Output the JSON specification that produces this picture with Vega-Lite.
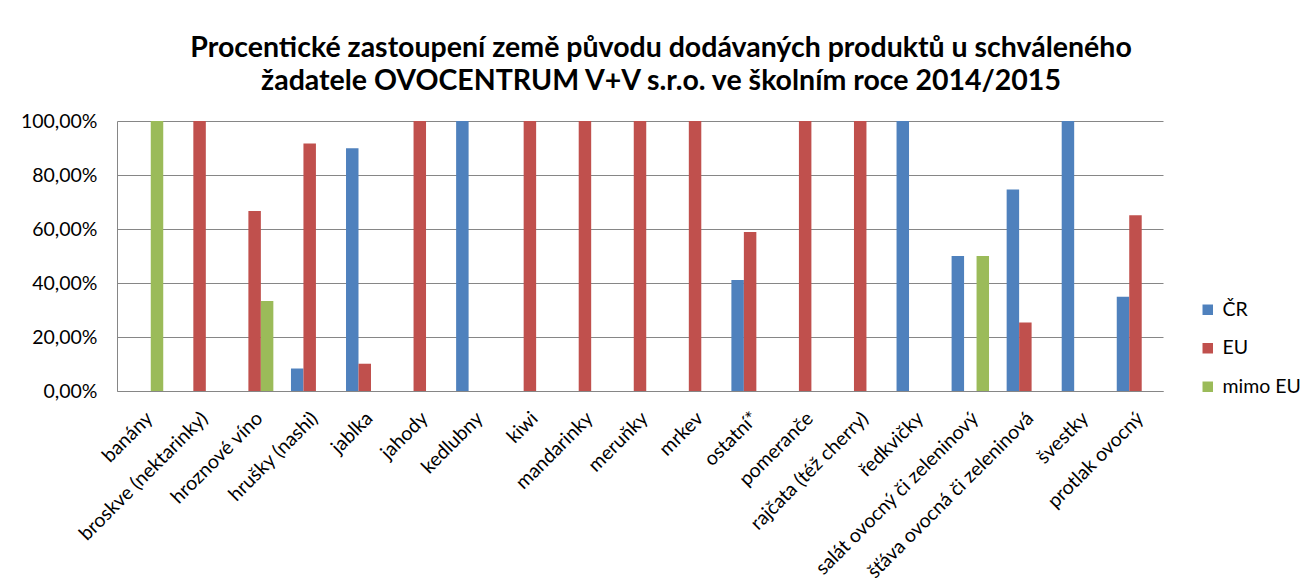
{
  "$schema": "https://vega.github.io/schema/vega-lite/v6.json",
  "width": 1046,
  "height": 270,
  "autosize": {"type": "none"},
  "padding": {"left": 117, "top": 121, "right": 151, "bottom": 195},
  "background": "#ffffff",
  "title": {
    "text": ["Procentické zastoupení země původu dodávaných produktů u schváleného", "žadatele OVOCENTRUM V+V s.r.o. ve školním roce 2014/2015"],
    "font": "Lato",
    "fontSize": 28.5,
    "fontWeight": "bold",
    "color": "#000000",
    "lineHeight": 33,
    "anchor": "middle",
    "dx": 21,
    "offset": 16
  },
  "data": {
    "values": [
      {"produkt": "banány", "puvod": "mimo EU", "podil": 100},
      {"produkt": "broskve (nektarinky)", "puvod": "EU", "podil": 100},
      {"produkt": "hroznové víno", "puvod": "EU", "podil": 66.67},
      {"produkt": "hroznové víno", "puvod": "mimo EU", "podil": 33.33},
      {"produkt": "hrušky (nashi)", "puvod": "ČR", "podil": 8.33},
      {"produkt": "hrušky (nashi)", "puvod": "EU", "podil": 91.67},
      {"produkt": "jablka", "puvod": "ČR", "podil": 89.9},
      {"produkt": "jablka", "puvod": "EU", "podil": 10.1},
      {"produkt": "jahody", "puvod": "EU", "podil": 100},
      {"produkt": "kedlubny", "puvod": "ČR", "podil": 100},
      {"produkt": "kiwi", "puvod": "EU", "podil": 100},
      {"produkt": "mandarinky", "puvod": "EU", "podil": 100},
      {"produkt": "meruňky", "puvod": "EU", "podil": 100},
      {"produkt": "mrkev", "puvod": "EU", "podil": 100},
      {"produkt": "ostatní*", "puvod": "ČR", "podil": 41.1},
      {"produkt": "ostatní*", "puvod": "EU", "podil": 58.9},
      {"produkt": "pomeranče", "puvod": "EU", "podil": 100},
      {"produkt": "rajčata (též cherry)", "puvod": "EU", "podil": 100},
      {"produkt": "ředkvičky", "puvod": "ČR", "podil": 100},
      {"produkt": "salát ovocný či zeleninový", "puvod": "ČR", "podil": 50},
      {"produkt": "salát ovocný či zeleninový", "puvod": "mimo EU", "podil": 50},
      {"produkt": "šťáva ovocná či zeleninová", "puvod": "ČR", "podil": 74.6},
      {"produkt": "šťáva ovocná či zeleninová", "puvod": "EU", "podil": 25.4},
      {"produkt": "švestky", "puvod": "ČR", "podil": 100},
      {"produkt": "protlak ovocný", "puvod": "ČR", "podil": 34.9},
      {"produkt": "protlak ovocný", "puvod": "EU", "podil": 65.1}
    ]
  },
  "mark": {"type": "bar"},
  "encoding": {
    "x": {
      "field": "produkt",
      "type": "nominal",
      "sort": null,
      "scale": {
        "domain": ["banány", "broskve (nektarinky)", "hroznové víno", "hrušky (nashi)", "jablka", "jahody", "kedlubny", "kiwi", "mandarinky", "meruňky", "mrkev", "ostatní*", "pomeranče", "rajčata (též cherry)", "ředkvičky", "salát ovocný či zeleninový", "šťáva ovocná či zeleninová", "švestky", "protlak ovocný"],
        "paddingInner": 0.32,
        "paddingOuter": 0.16
      },
      "axis": {
        "title": null,
        "labelAngle": -45,
        "labelAlign": "right",
        "labelBaseline": "middle",
        "labelFont": "Lato",
        "labelFontSize": 19.5,
        "labelColor": "#000000",
        "labelPadding": 24,
        "labelOffset": 5,
        "labelLimit": 400,
        "ticks": false,
        "domainColor": "#868686",
        "grid": false
      }
    },
    "xOffset": {
      "field": "puvod",
      "type": "nominal",
      "scale": {"domain": ["ČR", "EU", "mimo EU"], "paddingInner": 0, "paddingOuter": 0}
    },
    "y": {
      "field": "podil",
      "type": "quantitative",
      "scale": {"domain": [0, 100], "nice": false},
      "axis": {
        "title": null,
        "values": [0, 20, 40, 60, 80, 100],
        "labelExpr": "replace(format(datum.value, '.2f'), '.', ',') + '%'",
        "labelFont": "Lato",
        "labelFontSize": 19.5,
        "labelColor": "#000000",
        "labelPadding": 20,
        "ticks": false,
        "domain": true,
        "domainColor": "#868686",
        "grid": true,
        "gridColor": "#868686",
        "gridWidth": 1
      }
    },
    "color": {
      "field": "puvod",
      "type": "nominal",
      "scale": {"domain": ["ČR", "EU", "mimo EU"], "range": ["#4F81BD", "#C0504D", "#9BBB59"]},
      "legend": {
        "title": null,
        "orient": "none",
        "legendX": 1081,
        "legendY": 179,
        "symbolType": "square",
        "symbolSize": 110,
        "symbolStrokeWidth": 0,
        "labelFont": "Lato",
        "labelFontSize": 19.5,
        "labelColor": "#000000",
        "labelOffset": 5,
        "rowPadding": 17.5
      }
    }
  },
  "config": {
    "view": {"stroke": null}
  }
}
